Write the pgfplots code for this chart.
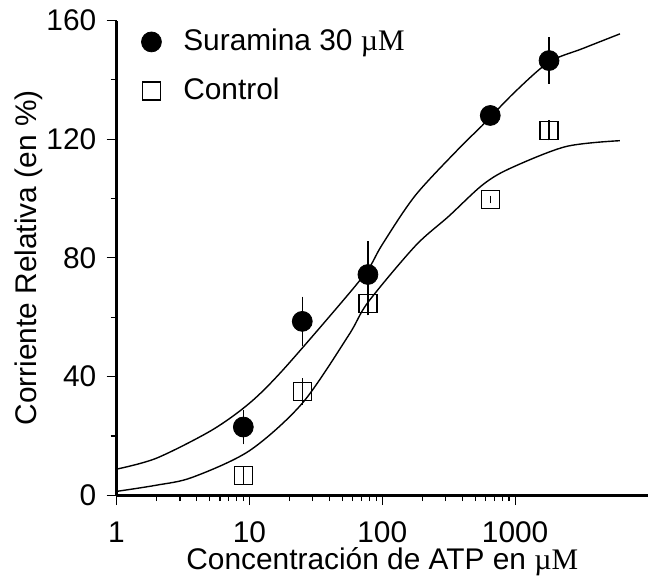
\documentclass[border=0pt]{standalone}
\usepackage{fontspec}
\setmainfont{Liberation Sans}
\newfontfamily\serif{Liberation Serif}
\usepackage{pgfplots}
\pgfplotsset{compat=1.18}
\begin{document}
\fontsize{15}{18}\selectfont
\begin{tikzpicture}[trim axis right]
\begin{semilogxaxis}[
  width=267pt, height=238.5pt, scale only axis,
  xmin=1, xmax=10000, ymin=0, ymax=160,
  axis lines=left,
  axis line style={-, line width=1.5pt},
  tick align=outside,
  major tick length=5pt, minor tick length=3pt,
  tick style={black, line width=0.6pt},
  xtick={1,10,100,1000}, xticklabels={1,10,100,1000},
  ytick={0,40,80,120,160}, minor ytick={20,60,100,140},
  /pgf/number format/assume math mode=true,
  tick label style={font=\fontsize{15}{18}\selectfont},
  xticklabel style={yshift=-3pt},
  xlabel={Concentración de ATP en {\serif µM}},
  ylabel={Corriente Relativa (en \%)},
  xlabel style={at={(axis description cs:0.5,-0.157)}, anchor=base, inner sep=0pt},
  ylabel style={at={(axis description cs:-0.165,0.5)}, anchor=center, inner ysep=7.5pt},
  label style={font=\fontsize{15}{18}\selectfont},
  legend style={at={(axis description cs:0.035,1.0)}, anchor=north west,
    draw=none, fill=none, font=\fontsize{15}{18}\selectfont,
    row sep=7.5pt, legend cell align=left},
  legend image code/.code={\path[draw=none, fill=none] (-5pt,-5pt) rectangle (14pt,5pt); \draw[#1] plot coordinates {(0pt,0pt)};},
]
% fitted curves
\addplot[black, line width=0.7pt, smooth, forget plot] coordinates {
  (1,8.8)(2,12.5)(5.2,21.9)(10,31)(17.7,42)(50,65.3)(78,76)(100,84.5)
  (177,101)(380,117)(565,124.6)(1000,136)(1800,146)(3200,150.5)(6150,155.5)
};
\addplot[black, line width=0.7pt, smooth, forget plot] coordinates {
  (1,1.3)(2,3.4)(3.7,6)(10,15)(25,31)(56,54)(78,65)(177,84)
  (316,94)(565,104.5)(900,110)(2400,117.5)(6150,119.5)
};
% Suramina 30 uM
\addplot[black, only marks, mark=*, mark size=5pt,
  error bars/.cd, y dir=both, y explicit, error mark=-,
  error bar style={line width=0.6pt}, error mark options={mark size=2pt, line width=0.6pt}]
  coordinates {
  (9,23) +- (0,4.5)
  (25,58.6) +- (0,7)
  (78,74.4) +- (0,9.8)
  (650,128) +- (0,1.5)
  (1800,146.5) +- (0,6.5)
};
\addlegendentry{Suramina 30 {\serif µM}}
% Control
\addplot[black, only marks, mark=square, mark size=4.5pt, mark options={line width=0.7pt},
  error bars/.cd, y dir=both, y explicit, error mark=-,
  error bar style={line width=0.6pt}, error mark options={mark size=1.5pt, line width=0.6pt}]
  coordinates {
  (9,6.7) +- (0,2)
  (25,35) +- (0,3.5)
  (78,64.6) +- (0,3)
  (650,99.7) +- (0,0.3)
  (1800,123) +- (0,2.4)
};
\addlegendentry{Control}
\end{semilogxaxis}
\end{tikzpicture}
\end{document}
